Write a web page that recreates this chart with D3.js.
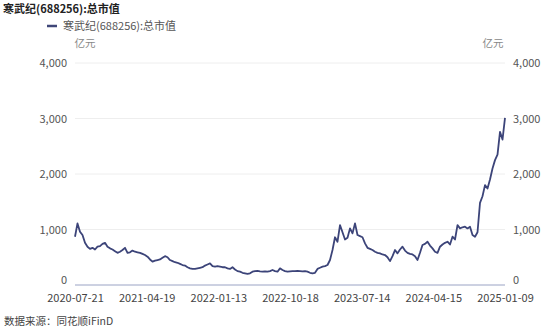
<!DOCTYPE html>
<html>
<head>
<meta charset="utf-8">
<script src="https://cdn.jsdelivr.net/npm/d3@7/dist/d3.min.js"></script>
<style>
  html, body { margin: 0; padding: 0; background: #fff; }
  svg { display: block; }
  text { font-family: "Noto Sans CJK SC", "Noto Sans", sans-serif; }
</style>
</head>
<body>
<script>
const title = "寒武纪(688256):总市值";
const seriesName = "寒武纪(688256):总市值";
const unitLabel = "亿元";
const sourceText = "数据来源：同花顺iFinD";
const xTickLabels = ["2020-07-21", "2021-04-19", "2022-01-13", "2022-10-18", "2023-07-14", "2024-04-15", "2025-01-09"];
const yTicks = [0, 1000, 2000, 3000, 4000];
// Total market value (亿元), sampled evenly along the trading-day axis
const marketValue = [
  870, 1110, 960, 900, 760, 690, 650, 670, 640, 690,
  700, 740, 760, 690, 660, 640, 610, 580, 600, 630,
  670, 580, 590, 620, 600, 590, 580, 560, 540, 510,
  460, 420, 440, 450, 460, 490, 520, 500, 450, 430,
  410, 400, 380, 360, 350, 320, 300, 290, 290, 300,
  310, 320, 350, 370, 390, 340, 330, 340, 330, 320,
  320, 300, 290, 320, 280, 250, 240, 220, 210, 200,
  210, 240, 250, 255, 245, 240, 245, 240, 250, 270,
  250, 240, 300, 270, 250, 240, 245, 250, 250, 255,
  250, 245, 250, 240, 220, 210, 220, 290, 310, 330,
  340, 360, 450, 630, 860, 780, 1080, 950, 820, 850,
  1020, 930, 1110, 900, 880, 860, 750, 670, 650, 630,
  600, 580, 570, 550, 540, 500, 430, 520, 630, 570,
  640, 690, 620, 580, 560, 550, 520, 450, 580, 720,
  740, 780, 710, 660, 600, 580, 690, 730, 760, 780,
  730, 870, 820, 1080, 1020, 1040, 1050, 1020, 1050, 900,
  870, 950, 1480, 1600, 1800, 1740, 1900, 2100, 2250, 2350,
  2760, 2620, 3010
];

const W = 554, H = 328;
const svg = d3.select("body").append("svg").attr("width", W).attr("height", H);

const x = d3.scaleLinear().domain([0, marketValue.length - 1]).range([75, 505]);
const y = d3.scaleLinear().domain([0, 4000]).range([285, 63]);

// Title
svg.append("text").attr("x", 3).attr("y", 13)
  .attr("font-size", 11).attr("font-weight", "bold").attr("fill", "#222")
  .text(title);

// Legend
svg.append("line").attr("x1", 47).attr("x2", 57).attr("y1", 26).attr("y2", 26)
  .attr("stroke", "#3f4778").attr("stroke-width", 2.5);
svg.append("text").attr("x", 63).attr("y", 30)
  .attr("font-size", 11).attr("fill", "#555").text(seriesName);

// Unit labels
svg.append("text").attr("x", 85).attr("y", 47).attr("text-anchor", "middle")
  .attr("font-size", 10.5).attr("fill", "#888").text(unitLabel);
svg.append("text").attr("x", 493).attr("y", 47).attr("text-anchor", "middle")
  .attr("font-size", 10.5).attr("fill", "#888").text(unitLabel);

// Gridlines
svg.append("g").selectAll("line").data(yTicks.filter(d => d > 0)).join("line")
  .attr("x1", 75).attr("x2", 505)
  .attr("y1", d => y(d)).attr("y2", d => y(d))
  .attr("stroke", "#eeeeee").attr("stroke-width", 1);

function styleY(g) {
  g.select(".domain").remove();
  g.selectAll("text").attr("font-size", 11).attr("fill", "#555")
    .style("font-family", "'Noto Sans CJK SC', sans-serif")
    .attr("dy", d => d === 0 ? "-0.1em" : "0.32em");
}

// Left axis
svg.append("g").attr("transform", "translate(75,0)")
  .call(d3.axisLeft(y).tickValues(yTicks).tickSize(0).tickPadding(8).tickFormat(d3.format(",")))
  .call(styleY);

// Right axis
svg.append("g").attr("transform", "translate(505,0)")
  .call(d3.axisRight(y).tickValues(yTicks).tickSize(0).tickPadding(8).tickFormat(d3.format(",")))
  .call(styleY);

// Bottom axis line
svg.append("line").attr("x1", 75).attr("x2", 505).attr("y1", y(0)).attr("y2", y(0))
  .attr("stroke", "#9aa3c4").attr("stroke-width", 1);

// Bottom tick labels
const n = marketValue.length - 1;
const tickIdx = xTickLabels.map((d, i) => i * n / (xTickLabels.length - 1));
const bottomAxis = svg.append("g").attr("transform", `translate(0,${y(0)})`)
  .call(d3.axisBottom(x).tickValues(tickIdx).tickSize(0).tickPadding(9)
    .tickFormat((d, i) => xTickLabels[i]));
bottomAxis.select(".domain").remove();
bottomAxis.selectAll("text").attr("font-size", 11).attr("fill", "#444")
  .style("font-family", "'Noto Sans CJK SC', sans-serif");

// Series line
const line = d3.line().x((d, i) => x(i)).y(d => y(d));
svg.append("path").datum(marketValue)
  .attr("d", line).attr("fill", "none")
  .attr("stroke", "#3c4479").attr("stroke-width", 1.8)
  .attr("stroke-linejoin", "round");

// Source
svg.append("text").attr("x", 4).attr("y", 325)
  .attr("font-size", 10.5).attr("fill", "#444").text(sourceText);
</script>
</body>
</html>
